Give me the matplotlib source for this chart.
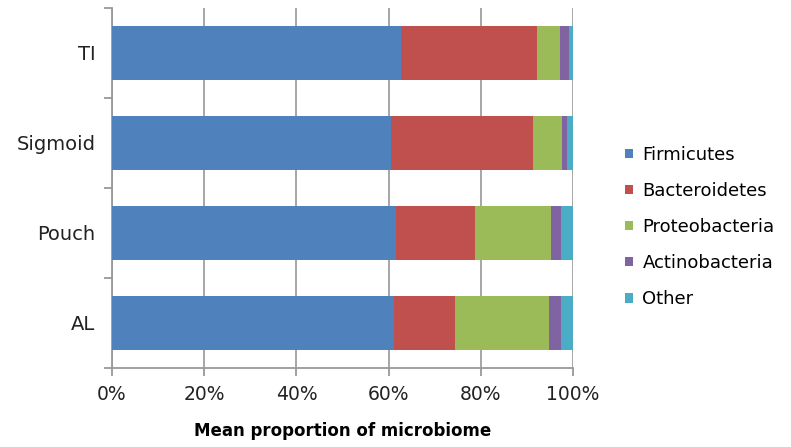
import numpy as np
import matplotlib
matplotlib.use('Agg')
import matplotlib.pyplot as plt
from matplotlib.patches import Patch

sites = ['AL', 'Pouch', 'Sigmoid', 'TI']
phyla = ['Firmicutes', 'Bacteroidetes', 'Proteobacteria', 'Actinobacteria', 'Other']
firmicutes = [61.2, 61.5, 60.5, 62.7]
bacteroidetes = [13.1, 17.2, 30.9, 29.4]
proteobacteria = [20.4, 16.5, 6.2, 5.1]
actinobacteria = [2.6, 2.1, 1.0, 1.9]
other = [2.7, 2.7, 1.4, 0.9]
colors = ['#4F81BD', '#C0504D', '#9BBB59', '#8064A2', '#4BACC6']

plt.rcParams['font.family'] = ['DejaVu Sans']

fig = plt.figure(figsize=(7.91, 4.47), dpi=100)
ax = fig.add_axes([112 / 791, 1 - 368 / 447, 461 / 791, 360 / 447])

y = np.arange(len(sites))
left = np.zeros(len(sites))
for vals, c in zip([firmicutes, bacteroidetes, proteobacteria, actinobacteria, other], colors):
    vals = np.array(vals) / 100.0
    ax.barh(y, vals, left=left, height=0.6, color=c, zorder=3)
    left += vals

ax.set_xlim(0, 1)
ax.set_ylim(-0.5, len(sites) - 0.5)
ax.set_xticks(np.linspace(0, 1, 6))
ax.set_xticklabels(['0%', '20%', '40%', '60%', '80%', '100%'], fontsize=13.5, color='#222222')
ax.set_yticks(y)
ax.set_yticklabels(sites, fontsize=14, color='#222222')
ax.set_yticks(np.arange(-0.5, len(sites)), minor=True)
ax.tick_params(axis='y', which='major', length=0, pad=12)
ax.tick_params(axis='y', which='minor', length=6, color='#999999', width=1.3)
ax.tick_params(axis='x', length=6, color='#999999', width=1.3, pad=6)
ax.grid(axis='x', color='#a6a6a6', linewidth=1.4, zorder=0)
for s in ['top', 'right']:
    ax.spines[s].set_visible(False)
for s in ['left', 'bottom']:
    ax.spines[s].set_color('#999999')
    ax.spines[s].set_linewidth(1.3)
ax.set_xlabel('Mean proportion of microbiome', fontsize=12, fontweight='bold', labelpad=13)

handles = [Patch(facecolor=c, edgecolor='none') for c in colors]
fig.legend(handles, phyla, loc='center left', bbox_to_anchor=(609 / 791, 1 - 227 / 447),
           frameon=False, fontsize=13, handlelength=0.45, handleheight=0.45,
           handletextpad=0.5, labelspacing=1.0)

fig.savefig('out.png', dpi=100)
